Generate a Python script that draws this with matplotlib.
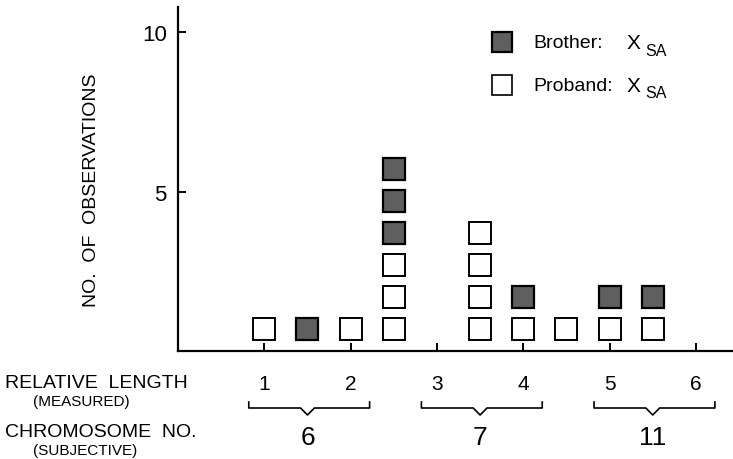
import matplotlib.pyplot as plt

plt.rcParams['font.family'] = ['Liberation Sans', 'DejaVu Sans']

# relative length positions of the columns and counts per column
positions = [1.0, 1.5, 2.0, 2.5, 3.5, 4.0, 4.5, 5.0, 5.5]
proband = [1, 0, 1, 3, 4, 1, 1, 1, 1]
brother = [0, 1, 0, 3, 0, 1, 0, 1, 1]

rel_ticks = [1, 2, 3, 4, 5, 6]
chrom_centers = [1.5, 3.5, 5.5]
chrom_labels = ['6', '7', '11']

fig = plt.figure(figsize=(7.33, 4.6), dpi=100)
ax = fig.add_axes([178 / 733, 108 / 460, 555 / 733, 344 / 460])
ax.set_xlim(0, 6.43)
ax.set_ylim(0, 10.8)

for s in ['top', 'right']:
    ax.spines[s].set_visible(False)
ax.spines['left'].set_linewidth(1.6)
ax.spines['bottom'].set_linewidth(1.6)

ax.set_yticks([5, 10])
ax.set_yticklabels(['5', '10'], fontsize=16)
ax.tick_params(axis='y', direction='in', length=6, width=1.4, pad=8)
ax.set_xticks(rel_ticks)
ax.set_xticklabels([])
ax.tick_params(axis='x', direction='in', length=6, width=1.4)
ax.set_ylabel('NO.  OF  OBSERVATIONS', fontsize=14)
ax.yaxis.set_label_coords(-78 / 555, 0.47)

msize = 15.5
for x, p, b in zip(positions, proband, brother):
    for k in range(1, p + 1):
        ax.plot(x, k - 0.3, marker='s', ms=msize, mfc='white', mec='black',
                mew=1.4, clip_on=False)
    for k in range(p + 1, p + b + 1):
        ax.plot(x, k - 0.3, marker='s', ms=msize, mfc='#5f5f5f', mec='black',
                mew=1.6, clip_on=False)

# legend drawn by hand
ax.plot([3.75], [9.7], marker='s', ms=14, mfc='#5f5f5f', mec='black', mew=1.6)
ax.plot([3.75], [8.35], marker='s', ms=14, mfc='white', mec='black', mew=1.2)
ax.text(4.12, 9.7, 'Brother:', fontsize=14, va='center')
ax.text(4.12, 8.35, 'Proband:', fontsize=14, va='center')
for yy in [9.7, 8.35]:
    ax.text(5.2, yy, 'X', fontsize=15, va='center')
    ax.text(5.41, yy - 0.25, 'SA', fontsize=11.5, va='center')

# labels under the axis
def fy(py):
    return (352 - py) / 344

xt = ax.get_xaxis_transform()
for t in rel_ticks:
    ax.text(t, fy(385), str(t), fontsize=15, ha='center', va='center',
            transform=xt)
for c, lab in zip(chrom_centers, chrom_labels):
    x0, x1 = c - 0.68, c + 0.72
    ax.plot([x0, x0, c - 0.08, c, c + 0.08, x1, x1],
            [fy(403), fy(409), fy(409), fy(416), fy(409), fy(409), fy(403)],
            color='black', lw=1.2, transform=xt, clip_on=False)
    ax.text(c, fy(438), lab, fontsize=19, ha='center', va='center',
            transform=xt)

fig.text(5 / 733, 1 - 384 / 460, 'RELATIVE  LENGTH', fontsize=14, va='center')
fig.text(33 / 733, 1 - 402 / 460, '(MEASURED)', fontsize=11, va='center')
fig.text(5 / 733, 1 - 433 / 460, 'CHROMOSOME  NO.', fontsize=14, va='center')
fig.text(33 / 733, 1 - 451 / 460, '(SUBJECTIVE)', fontsize=11, va='center')

fig.savefig('out.png', dpi=100)
